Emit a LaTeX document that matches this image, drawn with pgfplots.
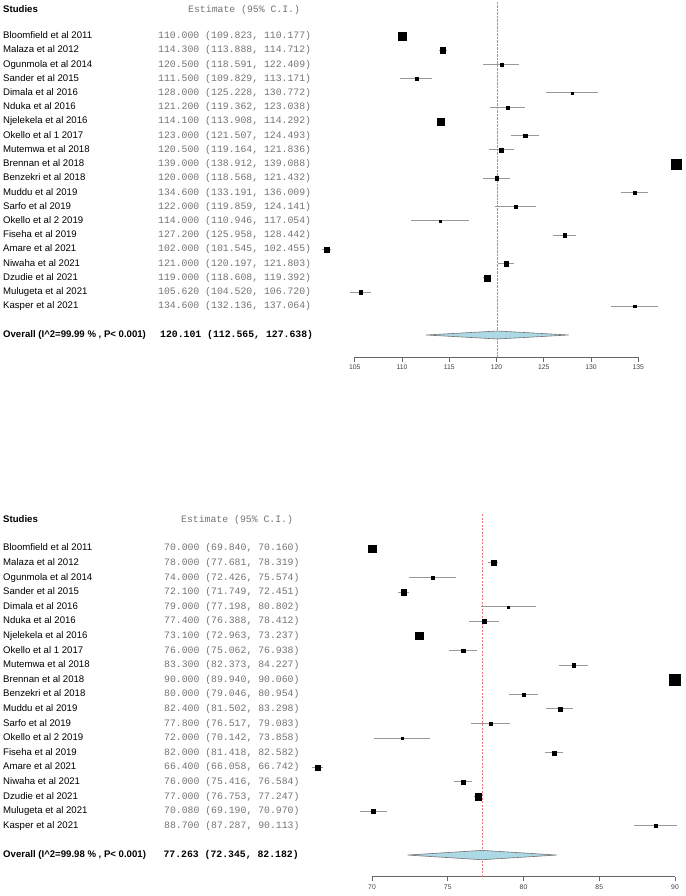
\documentclass[border=0pt]{standalone}
\usepackage{pgfplots}
\pgfplotsset{compat=1.18}
\usepackage{pgfplotstable}
\usepackage{fontspec}
\setmainfont{Liberation Sans}
\newfontfamily\mono{Liberation Mono}
\definecolor{valgray}{gray}{0.45}
\definecolor{cigray}{gray}{0.6}
\definecolor{dia}{RGB}{173,216,230}
\definecolor{refred}{RGB}{236,120,120}
\newcommand\fsn{\fontsize{9.6}{11}\selectfont}
\newcommand\fmn{\mono\fontsize{9.8}{11}\selectfont}
\newcommand\st[5]{%
  \node[anchor=mid west, inner sep=0pt] at (axis cs:#1,#3) {\fsn #4};
  \node[anchor=mid west, inner sep=0pt, text=valgray] at (axis cs:#2,#3) {\fmn #5};}

\pgfplotstableread{
r est lo hi s
1 110.000 109.823 110.177 3.7
2 114.300 113.888 114.712 2.8
3 120.500 118.591 122.409 1.5
4 111.500 109.829 113.171 1.5
5 128.000 125.228 130.772 1.2
6 121.200 119.362 123.038 1.5
7 114.100 113.908 114.292 3.7
8 123.000 121.507 124.493 1.7
9 120.500 119.164 121.836 1.8
10 139.000 138.912 139.088 5.2
11 120.000 118.568 121.432 1.7
12 134.600 133.191 136.009 1.7
13 122.000 119.859 124.141 1.2
14 114.000 110.946 117.054 1.0
15 127.200 125.958 128.442 1.7
16 102.000 101.545 102.455 2.4
17 121.000 120.197 121.803 2.1
18 119.000 118.608 119.392 3.1
19 105.620 104.520 106.720 1.7
20 134.600 132.136 137.064 1.2
}\topdata

\pgfplotstableread{
r est lo hi s
1 70.000 69.840 70.160 3.6
2 78.000 77.681 78.319 2.6
3 74.000 72.426 75.574 1.3
4 72.100 71.749 72.451 2.6
5 79.000 77.198 80.802 1.0
6 77.400 76.388 78.412 1.8
7 73.100 72.963 73.237 3.6
8 76.000 75.062 76.938 1.8
9 83.300 82.373 84.227 1.6
10 90.000 89.940 90.060 5.5
11 80.000 79.046 80.954 1.7
12 82.400 81.502 83.298 1.9
13 77.800 76.517 79.083 1.4
14 72.000 70.142 73.858 1.0
15 82.000 81.418 82.582 2.0
16 66.400 66.058 66.742 2.4
17 76.000 75.416 76.584 2.0
18 77.000 76.753 77.247 3.1
19 70.080 69.190 70.970 1.8
20 88.700 87.287 90.113 1.5
}\botdata

\pgfplotsset{
  forest/.style={
    scale only axis, clip=false,
    axis x line*=bottom, axis y line=none,
    tick align=outside, major tick length=4.5pt,
    x axis line style={black!60, line width=0.6pt, -},
    xtick style={black!60, line width=0.6pt},
    /pgf/number format/assume math mode=true,
    xticklabel style={font=\fontsize{6.8}{8}\selectfont, text=black!75},
  },
  ci/.style={only marks, mark=*, mark size=0pt, forget plot,
    error bars/.cd, x dir=both, x explicit, error mark=none,
    error bar style={color=cigray, line width=0.9pt}},
  cin/.style={only marks, mark=*, mark size=0pt, forget plot,
    error bars/.cd, x dir=both, x explicit, error mark=none,
    error bar style={color=black!40, line width=0.8pt}},
  box/.style={scatter, only marks, mark=square*,
    scatter/use mapped color={draw=black, fill=black},
    mark options={line width=0.1pt},
    visualization depends on={\thisrow{s} \as \msz},
    scatter/@pre marker code/.append style={/tikz/mark size=\msz}},
}

\begin{document}
\begin{tikzpicture}
\useasboundingbox (0,0) rectangle (685pt,-896pt);

% ---------------- top panel ----------------
\begin{axis}[forest, at={(354.7pt,-357pt)}, anchor=south west,
  width=283.6pt, height=355pt,
  xmin=105, xmax=135, ymin=-23.574, ymax=1.391,
  xtick={105,110,115,120,125,130,135}]
\addplot[refred, line width=1pt, dash pattern=on 2.2pt off 1.3pt] coordinates {(120.101,1.391) (120.101,-23.574)};
\addplot[ci] table[x=est, y expr=-\thisrow{r}, x error minus expr={\thisrow{est}-\thisrow{lo}}, x error plus expr={\thisrow{hi}-\thisrow{est}}] {\topdata};
\addplot[box] table[x=est, y expr=-\thisrow{r}] {\topdata};
\addplot[cin] coordinates {(110.000,-1) +- (0.177,0) (114.100,-7) +- (0.192,0) (139.000,-10) +- (0.088,0)};
\addplot[fill=dia, draw=black!55, line width=0.6pt] coordinates {(112.565,-22.026) (120.101,-21.746) (127.638,-22.026) (120.101,-22.306) (112.565,-22.026)};
\node[anchor=mid west, inner sep=0pt] at (axis cs:67.795,0.828) {\fsn\bfseries Studies};
\node[anchor=mid west, inner sep=0pt, text=valgray] at (axis cs:87.37,0.828) {\fmn Estimate (95\% C.I.)};
\st{67.795}{84.193}{-1}{Bloomfield et al 2011}{110.000 (109.823, 110.177)}
\st{67.795}{84.193}{-2}{Malaza et al 2012}{114.300 (113.888, 114.712)}
\st{67.795}{84.193}{-3}{Ogunmola et al 2014}{120.500 (118.591, 122.409)}
\st{67.795}{84.193}{-4}{Sander et al 2015}{111.500 (109.829, 113.171)}
\st{67.795}{84.193}{-5}{Dimala et al 2016}{128.000 (125.228, 130.772)}
\st{67.795}{84.193}{-6}{Nduka et al 2016}{121.200 (119.362, 123.038)}
\st{67.795}{84.193}{-7}{Njelekela et al 2016}{114.100 (113.908, 114.292)}
\st{67.795}{84.193}{-8}{Okello et al 1 2017}{123.000 (121.507, 124.493)}
\st{67.795}{84.193}{-9}{Mutemwa et al 2018}{120.500 (119.164, 121.836)}
\st{67.795}{84.193}{-10}{Brennan et al 2018}{139.000 (138.912, 139.088)}
\st{67.795}{84.193}{-11}{Benzekri et al 2018}{120.000 (118.568, 121.432)}
\st{67.795}{84.193}{-12}{Muddu et al 2019}{134.600 (133.191, 136.009)}
\st{67.795}{84.193}{-13}{Sarfo et al 2019}{122.000 (119.859, 124.141)}
\st{67.795}{84.193}{-14}{Okello et al 2 2019}{114.000 (110.946, 117.054)}
\st{67.795}{84.193}{-15}{Fiseha et al 2019}{127.200 (125.958, 128.442)}
\st{67.795}{84.193}{-16}{Amare et al 2021}{102.000 (101.545, 102.455)}
\st{67.795}{84.193}{-17}{Niwaha et al 2021}{121.000 (120.197, 121.803)}
\st{67.795}{84.193}{-18}{Dzudie et al 2021}{119.000 (118.608, 119.392)}
\st{67.795}{84.193}{-19}{Mulugeta et al 2021}{105.620 (104.520, 106.720)}
\st{67.795}{84.193}{-20}{Kasper et al 2021}{134.600 (132.136, 137.064)}
\node[anchor=mid west, inner sep=0pt] at (axis cs:67.795,-22.026) {\fsn\bfseries Overall (I\textasciicircum 2=99.99 \% , P< 0.001)};
\node[anchor=mid west, inner sep=0pt] at (axis cs:84.40,-22.026) {\fmn\bfseries 120.101 (112.565, 127.638)};
\end{axis}

% ---------------- bottom panel ----------------
\begin{axis}[forest, at={(372pt,-876.7pt)}, anchor=south west,
  width=303pt, height=362.7pt,
  xmin=70, xmax=90, ymin=-23.493, ymax=1.349,
  xtick={70,75,80,85,90}]
\addplot[refred, line width=1pt, dash pattern=on 2.2pt off 1.3pt] coordinates {(77.263,1.349) (77.263,-23.493)};
\addplot[ci] table[x=est, y expr=-\thisrow{r}, x error minus expr={\thisrow{est}-\thisrow{lo}}, x error plus expr={\thisrow{hi}-\thisrow{est}}] {\botdata};
\addplot[box] table[x=est, y expr=-\thisrow{r}] {\botdata};
\addplot[cin] coordinates {(70.000,-1) +- (0.160,0) (73.100,-7) +- (0.137,0) (90.000,-10) +- (0.060,0)};
\addplot[fill=dia, draw=black!55, line width=0.6pt] coordinates {(72.345,-22.01) (77.263,-21.69) (82.182,-22.01) (77.263,-22.33) (72.345,-22.01)};
\node[anchor=mid west, inner sep=0pt] at (axis cs:45.644,0.938) {\fsn\bfseries Studies};
\node[anchor=mid west, inner sep=0pt, text=valgray] at (axis cs:57.393,0.938) {\fmn Estimate (95\% C.I.)};
\st{45.644}{56.27}{-1}{Bloomfield et al 2011}{70.000 (69.840, 70.160)}
\st{45.644}{56.27}{-2}{Malaza et al 2012}{78.000 (77.681, 78.319)}
\st{45.644}{56.27}{-3}{Ogunmola et al 2014}{74.000 (72.426, 75.574)}
\st{45.644}{56.27}{-4}{Sander et al 2015}{72.100 (71.749, 72.451)}
\st{45.644}{56.27}{-5}{Dimala et al 2016}{79.000 (77.198, 80.802)}
\st{45.644}{56.27}{-6}{Nduka et al 2016}{77.400 (76.388, 78.412)}
\st{45.644}{56.27}{-7}{Njelekela et al 2016}{73.100 (72.963, 73.237)}
\st{45.644}{56.27}{-8}{Okello et al 1 2017}{76.000 (75.062, 76.938)}
\st{45.644}{56.27}{-9}{Mutemwa et al 2018}{83.300 (82.373, 84.227)}
\st{45.644}{56.27}{-10}{Brennan et al 2018}{90.000 (89.940, 90.060)}
\st{45.644}{56.27}{-11}{Benzekri et al 2018}{80.000 (79.046, 80.954)}
\st{45.644}{56.27}{-12}{Muddu et al 2019}{82.400 (81.502, 83.298)}
\st{45.644}{56.27}{-13}{Sarfo et al 2019}{77.800 (76.517, 79.083)}
\st{45.644}{56.27}{-14}{Okello et al 2 2019}{72.000 (70.142, 73.858)}
\st{45.644}{56.27}{-15}{Fiseha et al 2019}{82.000 (81.418, 82.582)}
\st{45.644}{56.27}{-16}{Amare et al 2021}{66.400 (66.058, 66.742)}
\st{45.644}{56.27}{-17}{Niwaha et al 2021}{76.000 (75.416, 76.584)}
\st{45.644}{56.27}{-18}{Dzudie et al 2021}{77.000 (76.753, 77.247)}
\st{45.644}{56.27}{-19}{Mulugeta et al 2021}{70.080 (69.190, 70.970)}
\st{45.644}{56.27}{-20}{Kasper et al 2021}{88.700 (87.287, 90.113)}
\node[anchor=mid west, inner sep=0pt] at (axis cs:45.644,-22.01) {\fsn\bfseries Overall (I\textasciicircum 2=99.98 \% , P< 0.001)};
\node[anchor=mid west, inner sep=0pt] at (axis cs:56.225,-22.01) {\fmn\bfseries 77.263 (72.345, 82.182)};
\end{axis}
\end{tikzpicture}
\end{document}
